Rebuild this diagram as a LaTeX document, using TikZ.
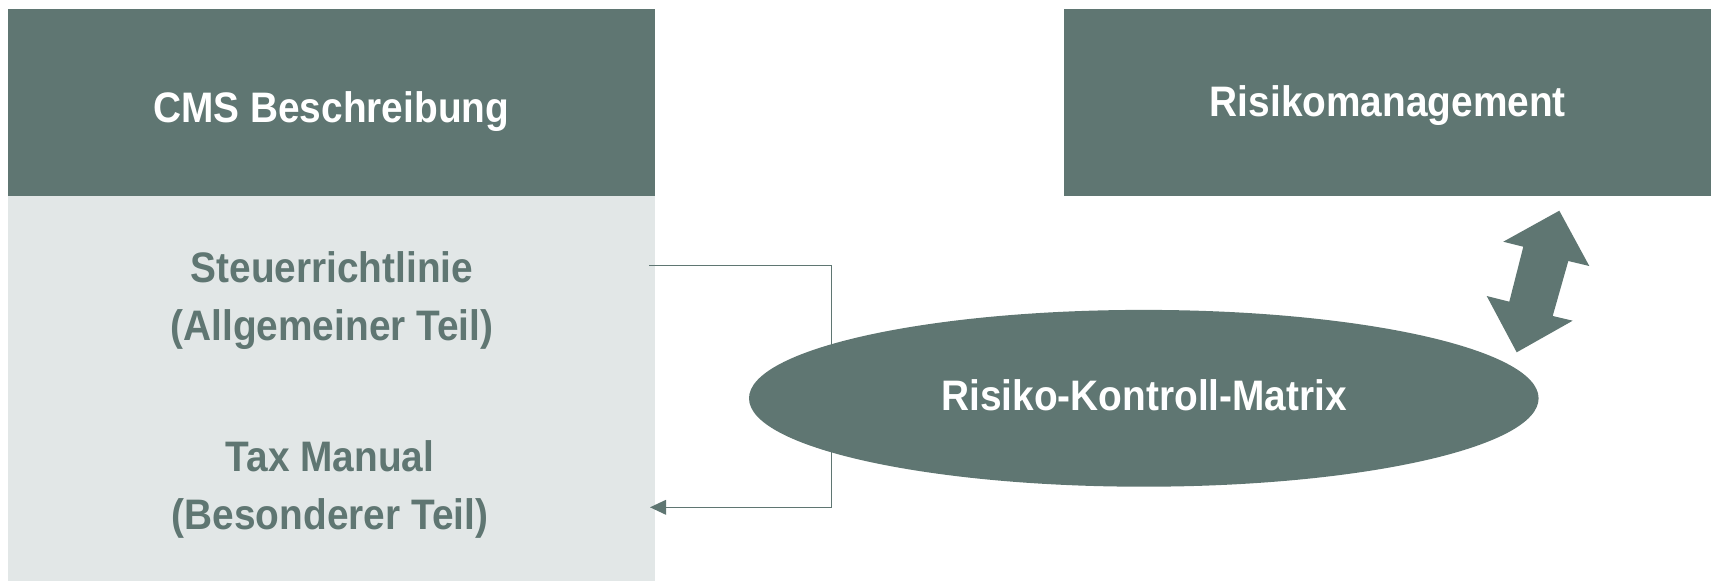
\documentclass[tikz,border=0pt]{standalone}
\usepackage{fontspec}
\setmainfont{Liberation Sans}[FakeStretch=0.91]
\usetikzlibrary{arrows.meta}
\definecolor{slate}{RGB}{95,118,114}
\definecolor{mist}{RGB}{226,231,231}
\begin{document}
\begin{tikzpicture}[x=0.75pt,y=-0.75pt,
  label/.style={font=\fontsize{32}{43.5}\selectfont\bfseries, inner sep=0pt, align=center},
  head/.style={label, text=white},
  body/.style={label, text=slate},
  link/.style={draw=slate, line width=1.1pt, -{Triangle[length=12pt,width=11pt]}}]
\useasboundingbox (0,0) rectangle (1711,582);

% CMS description column
\fill[slate] (7.6,8.7) rectangle (655,196.4);
\fill[mist] (7.6,196.4) rectangle (655,580.5);
\node[head, anchor=base] (cms) at (331.3,122.3) {CMS Beschreibung};
% multi-line nodes: base anchor sits on the last line
\node[body, anchor=base] (steuer) at (332,340.5) {Steuerrichtlinie\\(Allgemeiner Teil)};
\node[body, anchor=base] (tax) at (330,529.5) {Tax Manual\\(Besonderer Teil)};

% risk management box
\fill[slate] (1064,8.7) rectangle (1711,196.4);
\node[head, anchor=base] (rm) at (1387.8,116.5) {Risikomanagement};

% risk control matrix
\fill[slate] (1143.8,398.3) ellipse [x radius=394.8, y radius=88.4];
\node[head, anchor=base] (rkm) at (1144.2,410.5) {Risiko-Kontroll-Matrix};

% feedback connector from general to special part
\coordinate (from) at (649.3,265.3);
\coordinate (bend1) at (831.7,265.3);
\coordinate (bend2) at (831.7,507.3);
\coordinate (to) at (650,507.3);
\draw[link] (from) -- (bend1) -- (bend2) -- (to);

% double arrow between matrix and risk management
\fill[slate] (1559.3,210.7) -- (1589.3,266) -- (1568.3,261) -- (1552.7,316)
  -- (1572.7,320.7) -- (1516.7,352.3) -- (1486.7,296) -- (1509.3,301.7)
  -- (1523.3,246.7) -- (1503.3,241.7) -- cycle;
\end{tikzpicture}
\end{document}
